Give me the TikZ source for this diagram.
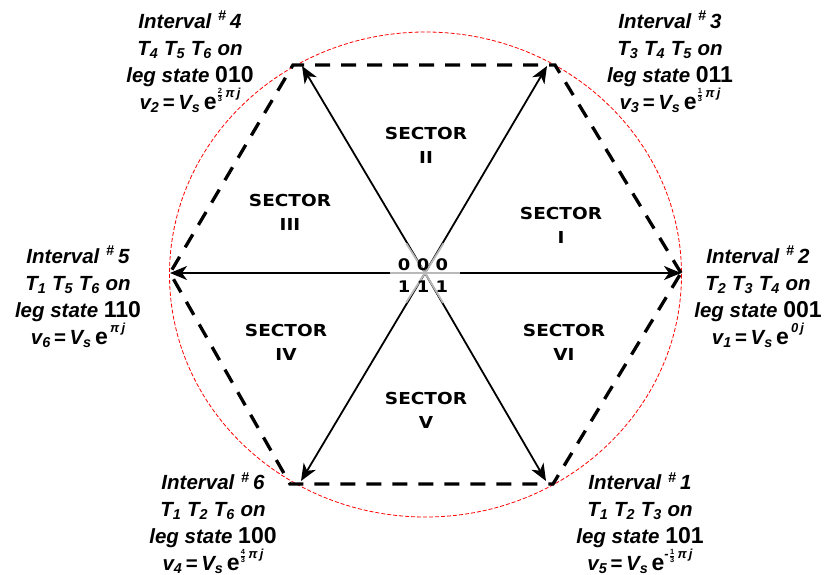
\documentclass[tikz,border=0pt]{standalone}
\usepackage{fontspec}
\setmainfont{Liberation Sans}
\newfontfamily\dvs[FakeStretch=1.12]{DejaVu Sans}
\usetikzlibrary{arrows.meta,calc}
\newcommand\myfrac[2]{$\scriptstyle{\hbox{\fontsize{7.5}{7.5}\selectfont\bfseries\upshape #1}\above0.7pt\hbox{\fontsize{7.5}{7.5}\selectfont\bfseries\upshape #2}}$}
\newcommand\expo[1]{\raisebox{0.6em}{\fontsize{13}{13}\selectfont #1}}
\newcommand\legbits[1]{{\upshape\fontsize{23}{23}\selectfont #1}}
\newcommand\ee{{\upshape\fontsize{23}{23}\selectfont e}}
\tikzset{
  hexline/.style={line width=3.3pt, dash pattern=on 15pt off 11pt},
  circline/.style={red, line width=0.8pt, dash pattern=on 4pt off 2pt},
  arr/.style={line width=1.8pt, -{Stealth[length=17pt,width=14pt,inset=5pt]}},
  greyline/.style={gray!55, line width=1.8pt},
  info/.style={align=center, inner sep=0pt, font=\fontsize{20.5}{27}\selectfont\bfseries\itshape},
  sector/.style={align=center, inner sep=0pt, font=\dvs\bfseries\fontsize{16.5}{24}\selectfont},
  digits/.style={inner sep=0pt, font=\dvs\bfseries\fontsize{16}{16}\selectfont}
}
\begin{document}
\begin{tikzpicture}[x=1pt,y=-1pt]
\useasboundingbox (0,0) rectangle (825,575);
% centre and vertices
\coordinate (O) at (425,273);
\coordinate (V1) at (681,273);
\coordinate (V3) at (555,65);
\coordinate (V2) at (293,65);
\coordinate (V6) at (170,273);
\coordinate (V4) at (290,484);
\coordinate (V5) at (553,484);
% arrow tips
\coordinate (A1) at (681,273);
\coordinate (A3) at (547,66);
\coordinate (A2) at (302,66);
\coordinate (A6) at (170,273);
\coordinate (A4) at (301,481);
\coordinate (A5) at (546,481);
% circle
\draw[circline] (425.5,274.5) ellipse [x radius=256, y radius=242.5];
% hexagon
\draw[hexline] (V1) -- (V3) -- (V2) -- (V6) -- (V4) -- (V5) -- cycle;
% arrows
\foreach \k in {1,...,6} { \draw[arr] (O) -- (A\k); }
% grey star
\foreach \k in {1,...,6} { \draw[greyline] (O) -- ($(O)!35pt!(V\k)$); }
% centre digits
\node[digits] (zeros) at (423,265) {0\hspace{6.5pt}0\hspace{6.5pt}0};
\node[digits] (ones) at (423,287) {1\hspace{6.5pt}1\hspace{6.5pt}1};
% sectors
\node[sector] (sII) at (426,145) {SECTOR\\II};
\node[sector] (sI) at (561,225) {SECTOR\\I};
\node[sector] (sIII) at (290,212) {SECTOR\\III};
\node[sector] (sIV) at (286,342) {SECTOR\\IV};
\node[sector] (sV) at (426,410) {SECTOR\\V};
\node[sector] (sVI) at (564,342) {SECTOR\\VI};
% interval labels
\node[info] (i4) at (190,62) {Interval\,\,\textsuperscript{\#}\,4\\
  T\textsubscript{4} T\textsubscript{5} T\textsubscript{6} on\\
  leg state \legbits{010}\\
  v\textsubscript{2}\,{\upshape=}\,V\textsubscript{s}\,\ee\expo{\myfrac{2}{3}\,π\,j}};
\node[info] (i3) at (670,62) {Interval\,\,\textsuperscript{\#}\,3\\
  T\textsubscript{3} T\textsubscript{4} T\textsubscript{5} on\\
  leg state \legbits{011}\\
  v\textsubscript{3}\,{\upshape=}\,V\textsubscript{s}\,\ee\expo{\myfrac{1}{3}\,π\,j}};
\node[info] (i5) at (78,297) {Interval\,\,\textsuperscript{\#}\,5\\
  T\textsubscript{1} T\textsubscript{5} T\textsubscript{6} on\\
  leg state \legbits{110}\\
  v\textsubscript{6}\,{\upshape=}\,V\textsubscript{s}\,\ee\expo{\,π\,j}};
\node[info] (i2) at (758,297) {Interval\,\,\textsuperscript{\#}\,2\\
  T\textsubscript{2} T\textsubscript{3} T\textsubscript{4} on\\
  leg state \legbits{001}\\
  v\textsubscript{1}\,{\upshape=}\,V\textsubscript{s}\,\ee\expo{\,0\,j}};
\node[info] (i6) at (213,523) {Interval\,\,\textsuperscript{\#}\,6\\
  T\textsubscript{1} T\textsubscript{2} T\textsubscript{6} on\\
  leg state \legbits{100}\\
  v\textsubscript{4}\,{\upshape=}\,V\textsubscript{s}\,\ee\expo{\myfrac{4}{3}\,π\,j}};
\node[info] (i1) at (640,523) {Interval\,\,\textsuperscript{\#}\,1\\
  T\textsubscript{1} T\textsubscript{2} T\textsubscript{3} on\\
  leg state \legbits{101}\\
  v\textsubscript{5}\,{\upshape=}\,V\textsubscript{s}\,\ee\expo{-\myfrac{1}{3}\,π\,j}};
\end{tikzpicture}
\end{document}
